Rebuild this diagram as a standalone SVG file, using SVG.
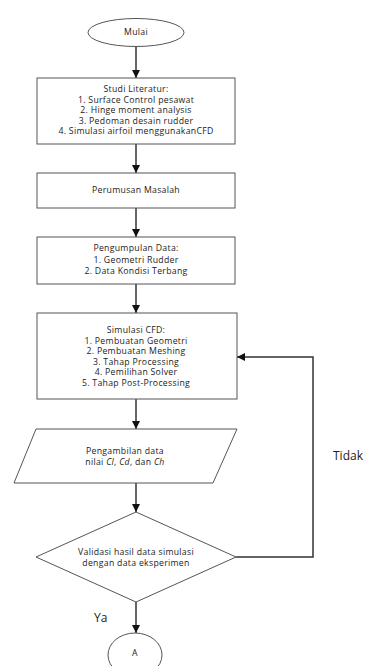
<svg xmlns="http://www.w3.org/2000/svg" width="370" height="666" viewBox="0 0 370 666">
<defs>
<style>
.s{fill:#fff;stroke:#555;stroke-width:1}
.t{font-family:"Open Sans","Liberation Sans",sans-serif;font-size:8.7px;letter-spacing:0.3px;fill:#222;text-anchor:middle;dominant-baseline:middle}
.l{font-family:"Open Sans","Liberation Sans",sans-serif;font-size:12px;fill:#222;dominant-baseline:middle}
.c{fill:none;stroke:#333;stroke-width:1.5}
</style>
<marker id="ah2" viewBox="0 0 10 10" refX="10" refY="5" markerWidth="5.5" markerHeight="5.5" orient="auto"><path d="M0,0L10,5L0,10z" fill="#111"/></marker>
</defs>
<rect width="370" height="666" fill="#fff"/>
<g id="connectors">
<path class="c" d="M136,46.5V78" marker-end="url(#ah2)"/>
<path class="c" d="M136,144V173" marker-end="url(#ah2)"/>
<path class="c" d="M136,208V237" marker-end="url(#ah2)"/>
<path class="c" d="M136,284V313" marker-end="url(#ah2)"/>
<path class="c" d="M136,399V429" marker-end="url(#ah2)"/>
<path class="c" d="M136,483V512" marker-end="url(#ah2)"/>
<path class="c" d="M136,602V633" marker-end="url(#ah2)"/>
<path class="c" d="M236,557H313V357H237" marker-end="url(#ah2)"/>
<text class="l" x="333" y="457">Tidak</text>
<text class="l" x="94" y="619">Ya</text>
</g>
<g id="mulai">
<ellipse class="s" cx="136" cy="32.5" rx="48" ry="14"/>
<text class="t" x="136" y="32.5">Mulai</text>
</g>
<g id="studi">
<rect class="s" x="37" y="78" width="198" height="66"/>
<text class="t" x="136" y="90">Studi Literatur:</text>
<text class="t" x="136" y="100.5">1. Surface Control pesawat</text>
<text class="t" x="136" y="111">2. Hinge moment analysis</text>
<text class="t" x="136" y="121.5">3. Pedoman desain rudder</text>
<text class="t" x="136" y="132">4. Simulasi airfoil menggunakanCFD</text>
</g>
<g id="perumusan">
<rect class="s" x="37" y="173" width="198" height="35"/>
<text class="t" x="136" y="191">Perumusan Masalah</text>
</g>
<g id="pengumpulan">
<rect class="s" x="37" y="237" width="198" height="47"/>
<text class="t" x="136" y="249">Pengumpulan Data:</text>
<text class="t" x="136" y="260.5">1. Geometri Rudder</text>
<text class="t" x="136" y="271.5">2. Data Kondisi Terbang</text>
</g>
<g id="simulasi">
<rect class="s" x="37" y="313" width="200" height="86"/>
<text class="t" x="136" y="331">Simulasi CFD:</text>
<text class="t" x="136" y="341.5">1. Pembuatan Geometri</text>
<text class="t" x="136" y="352">2. Pembuatan Meshing</text>
<text class="t" x="136" y="362.5">3. Tahap Processing</text>
<text class="t" x="136" y="373">4. Pemilihan Solver</text>
<text class="t" x="136" y="383.5">5. Tahap Post-Processing</text>
</g>
<g id="pengambilan">
<polygon class="s" points="36,429 237,429 213,483 14,483"/>
<text class="t" x="125" y="452">Pengambilan data</text>
<text class="t" x="125" y="463">nilai <tspan font-style="italic">Cl</tspan>, <tspan font-style="italic">Cd</tspan>, dan <tspan font-style="italic">Ch</tspan></text>
</g>
<g id="validasi">
<polygon class="s" points="136,512 236,557 136,602 36,557"/>
<text class="t" x="136" y="553">Validasi hasil data simulasi</text>
<text class="t" x="136" y="563.5">dengan data eksperimen</text>
</g>
<g id="a">
<ellipse class="s" cx="135" cy="655" rx="27" ry="22"/>
<text class="t" x="135" y="654">A</text>
</g>
</svg>
